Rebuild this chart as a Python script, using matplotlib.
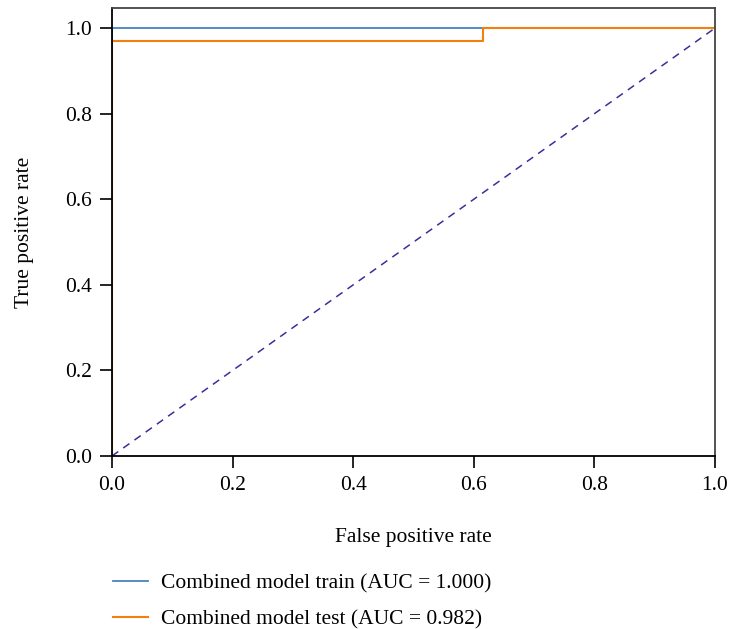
import numpy as np
import matplotlib.pyplot as plt

plt.rcParams['font.family'] = ['Liberation Serif', 'DejaVu Serif']

# ROC curve points
train_fpr = [0.0, 0.0, 1.0]
train_tpr = [0.0, 1.0, 1.0]
test_fpr = [0.0, 0.0, 0.615, 0.615, 1.0]
test_tpr = [0.0, 0.969, 0.969, 1.0, 1.0]
labels = ['Combined model train (AUC = 1.000)', 'Combined model test (AUC = 0.982)']
ticks = [0.0, 0.2, 0.4, 0.6, 0.8, 1.0]

fig = plt.figure(figsize=(7.3, 6.29), dpi=100)
ax = fig.add_axes([112 / 730, 1 - 456 / 629, 603 / 730, 448 / 629])

l1, = ax.plot(train_fpr, train_tpr, color='#4a83bd', lw=1.3)
l2, = ax.plot(test_fpr, test_tpr, color='#f57f0c', lw=1.5)
ax.plot([0, 1], [0, 1], color='#3c2f9a', lw=1.1, ls=(0, (5, 4)))

ax.set_xlim(0, 1)
ax.set_ylim(0, 1.047)
ax.set_xticks(ticks)
ax.set_yticks(ticks)
ax.set_xticklabels([f'{t:.1f}' for t in ticks], fontsize=15.5)
ax.set_yticklabels([f'{t:.1f}' for t in ticks], fontsize=15.5)
ax.tick_params(direction='out', length=8.5, width=1.2, color='black', pad=6)

for side in ['left', 'bottom']:
    ax.spines[side].set_color('black')
    ax.spines[side].set_linewidth(1.3)
for side in ['top', 'right']:
    ax.spines[side].set_color('#444444')
    ax.spines[side].set_linewidth(1.3)

ax.set_xlabel('False positive rate', fontsize=15.5, labelpad=24)
ax.set_ylabel('True positive rate', fontsize=15.5, labelpad=22)

fig.legend([l1, l2], labels, loc='upper left', bbox_to_anchor=(94 / 730, 1 - 554 / 629),
           frameon=False, fontsize=15.5, handlelength=1.6, handletextpad=0.6,
           labelspacing=0.75)

fig.savefig('out.png', dpi=100)
